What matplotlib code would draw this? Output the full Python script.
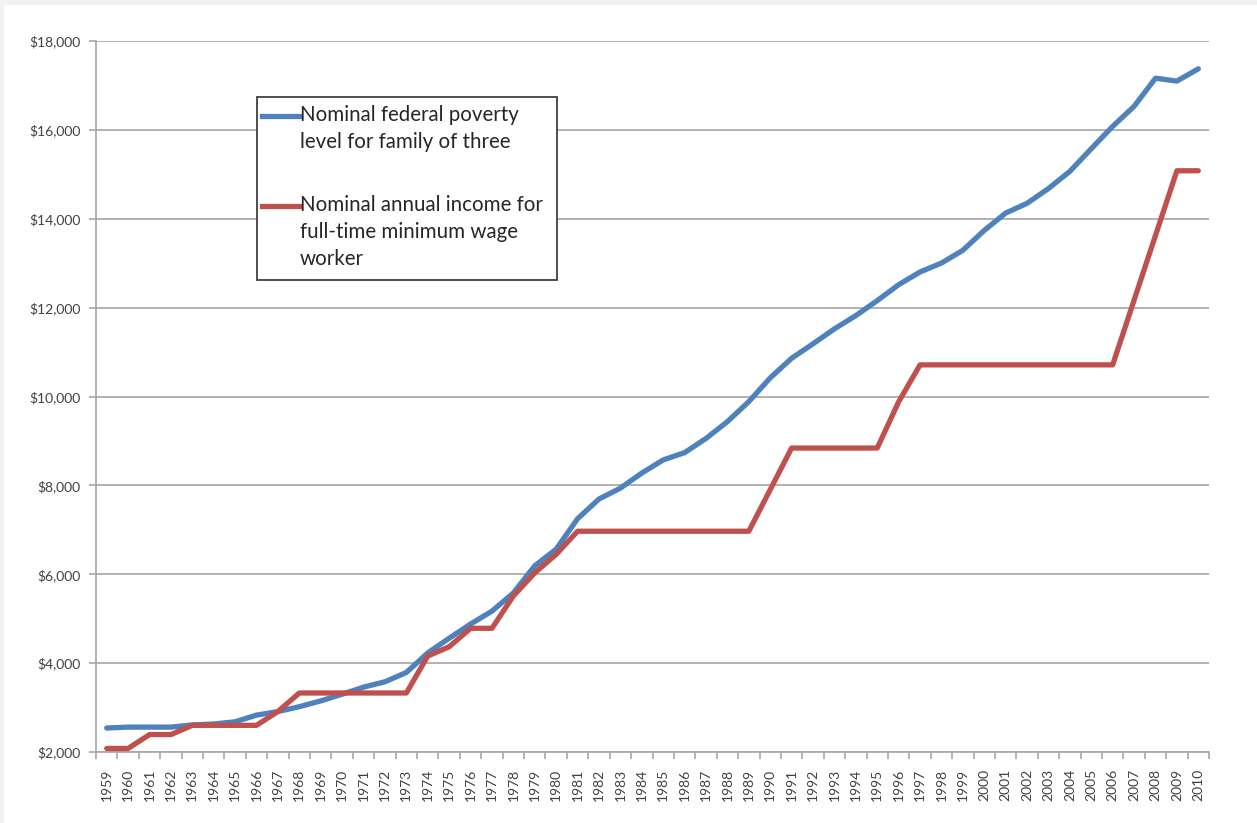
"""Poverty level vs minimum wage income chart"""
import matplotlib
matplotlib.use("Agg")
import matplotlib.pyplot as plt
from matplotlib.patches import Rectangle
from matplotlib.lines import Line2D
from matplotlib.ticker import FuncFormatter, MultipleLocator
import numpy as np

years = list(range(1959, 2011))

poverty_level = [2540, 2560, 2560, 2560, 2610, 2630, 2680, 2830, 2910, 3020,
                 3150, 3300, 3460, 3580, 3790, 4230, 4560, 4880, 5170, 5580,
                 6190, 6565, 7250, 7693, 7938, 8277, 8573, 8737, 9056, 9435,
                 9885, 10419, 10860, 11186, 11522, 11821, 12158, 12516, 12802, 13003,
                 13290, 13738, 14128, 14348, 14680, 15067, 15577, 16079, 16530, 17163,
                 17098, 17374]

min_wage_income = [2080, 2080, 2392, 2392, 2600, 2600, 2600, 2600, 2912, 3328,
                   3328, 3328, 3328, 3328, 3328, 4160, 4368, 4784, 4784, 5512,
                   6032, 6448, 6968, 6968, 6968, 6968, 6968, 6968, 6968, 6968,
                   6968, 7904, 8840, 8840, 8840, 8840, 8840, 9880, 10712, 10712,
                   10712, 10712, 10712, 10712, 10712, 10712, 10712, 10712, 12168, 13624,
                   15080, 15080]

label_poverty = "Nominal federal poverty\nlevel for family of three"
label_wage = "Nominal annual income for\nfull-time minimum wage\nworker"

BLUE = "#4f81bd"
RED = "#c0504d"
GRID = "#a6a6a6"
TXT = "#404040"

plt.rcParams['font.family'] = ['Lato', 'DejaVu Sans']

W, H = 1257, 823
fig = plt.figure(figsize=(W/100, H/100), dpi=100, facecolor="#f2f2f2")
fig.add_artist(Rectangle((4/W, 0), 1, 1 - 5/H, transform=fig.transFigure,
                         facecolor="white", edgecolor="none", zorder=0))

ax = fig.add_axes([96/W, 1 - 752/H, (1209-96)/W, (752-41)/H])
ax.set_facecolor("white")

x = np.arange(len(years))
ax.plot(x, poverty_level, color=BLUE, lw=3.8, solid_joinstyle='round', solid_capstyle='round', zorder=3)
ax.plot(x, min_wage_income, color=RED, lw=3.8, solid_joinstyle='round', solid_capstyle='round', zorder=3)

ax.set_xlim(-0.5, len(years) - 0.5)
ax.set_ylim(2000, 18000)
ax.yaxis.set_major_locator(MultipleLocator(2000))
ax.yaxis.set_major_formatter(FuncFormatter(lambda v, p: "${:,.0f}".format(v)))
ax.grid(axis='y', color=GRID, lw=1.2, zorder=1)
ax.set_axisbelow(True)

ax.set_xticks(x)
ax.set_xticklabels([str(y) for y in years], rotation=90)
ax.set_xticks(np.arange(-0.5, len(years)), minor=True)
ax.tick_params(axis='x', which='major', length=0, pad=12, labelsize=10, labelcolor=TXT)
ax.tick_params(axis='x', which='minor', length=5, color=GRID, width=1.2)
ax.tick_params(axis='y', length=5, color=GRID, width=1.2, labelsize=10, labelcolor=TXT, pad=6)

for s in ['top', 'right']:
    ax.spines[s].set_visible(False)
for s in ['left', 'bottom']:
    ax.spines[s].set_color(GRID)
    ax.spines[s].set_linewidth(1.2)

# legend box drawn by hand (Excel style, handle at first text line)
def fx(px):
    return px / W

def fy(py):
    return 1 - py / H

fig.add_artist(Rectangle((fx(257), fy(280)), fx(557) - fx(257), fy(97) - fy(280),
                         transform=fig.transFigure, facecolor="white",
                         edgecolor="#404040", lw=1.3, zorder=5))
fig.add_artist(Line2D([fx(262), fx(300)], [fy(116), fy(116)], transform=fig.transFigure,
                      color=BLUE, lw=3.8, zorder=6))
fig.add_artist(Line2D([fx(262), fx(300)], [fy(206), fy(206)], transform=fig.transFigure,
                      color=RED, lw=3.8, zorder=6))
fig.text(fx(300), fy(105), label_poverty, ha='left', va='top', fontsize=14.8,
         color="#262626", linespacing=1.45, zorder=7)
fig.text(fx(300), fy(195), label_wage, ha='left', va='top', fontsize=14.8,
         color="#262626", linespacing=1.45, zorder=7)

fig.savefig("out.png", dpi=100, facecolor=fig.get_facecolor())
